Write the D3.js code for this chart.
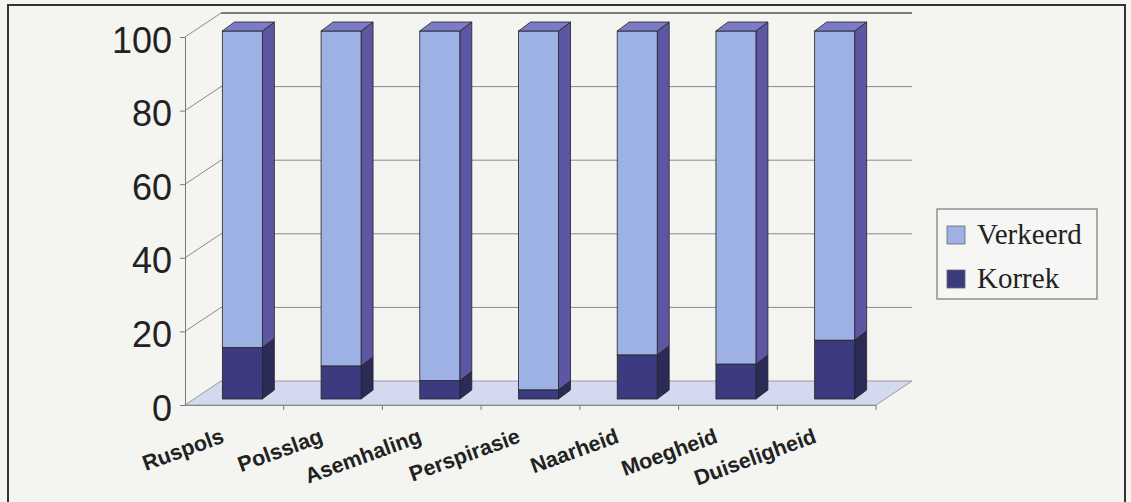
<!DOCTYPE html>
<html>
<head>
<meta charset="utf-8">
<script src="https://cdn.jsdelivr.net/npm/d3@7"></script>
<style>
  html, body { margin: 0; padding: 0; background: #f4f4f1; }
  svg { display: block; }
</style>
</head>
<body>
<svg id="chart" width="1131" height="502"></svg>
<script>
const categories = ["Ruspols", "Polsslag", "Asemhaling", "Perspirasie", "Naarheid", "Moegheid", "Duiseligheid"];
const korrek = [14, 9, 5, 2.5, 12, 9.5, 16];
const verkeerd = [86, 91, 95, 97.5, 88, 90.5, 84];
const seriesNames = ["Verkeerd", "Korrek"];
const yTicks = [0, 20, 40, 60, 80, 100];

const svg = d3.select("#chart");

// outer frame
svg.append("rect").attr("x", 8).attr("y", 5).attr("width", 1117).attr("height", 520)
  .attr("fill", "#f4f4f1").attr("stroke", "#333").attr("stroke-width", 2);

// 3D geometry
const DX = 36, DY = -24;          // floor depth
const fDX = 8, fDY = -6;          // bar front plane offset
const bDX = 12, bDY = -9;         // bar depth
const x = d3.scaleBand().domain(categories).range([185, 876]).paddingInner(0).paddingOuter(0);
const y = d3.scaleLinear().domain([0, 100]).range([405, 37]);
const barW = 40;

const colors = {
  lightFront: "#9db1e4", lightSide: "#5d56a3", lightTop: "#7c7bc6",
  darkFront: "#3c3b80", darkSide: "#2c2b58"
};

// floor
svg.append("polygon")
  .attr("points", [[185, y(0)], [876, y(0)], [876 + DX, y(0) + DY], [185 + DX, y(0) + DY]].map(p => p.join(",")).join(" "))
  .attr("fill", "#d3d9ee").attr("stroke", "#9a9aa6").attr("stroke-width", 1);

// gridlines (left wall diagonals + back wall)
const grid = svg.append("g");
yTicks.filter(v => v > 0).forEach(v => {
  grid.append("line").attr("x1", 185).attr("y1", y(v)).attr("x2", 185 + DX).attr("y2", y(v) + DY)
    .attr("stroke", "#8a8a8a").attr("stroke-width", 1);
  grid.append("line").attr("x1", 185 + DX).attr("y1", y(v) + DY).attr("x2", 876 + DX).attr("y2", y(v) + DY)
    .attr("stroke", v === 100 ? "#555" : "#8a8a8a").attr("stroke-width", v === 100 ? 1.5 : 1);
});

// y axis
const yAxisG = svg.append("g").attr("transform", "translate(185,0)");
yAxisG.call(d3.axisLeft(y).tickValues(yTicks).tickSize(5).tickPadding(8));
yAxisG.select(".domain").attr("stroke", "#777");
yAxisG.selectAll(".tick line").attr("stroke", "#777");
yAxisG.selectAll(".tick text")
  .attr("font-family", "'Liberation Sans', Arial, sans-serif")
  .attr("font-size", 36).attr("fill", "#222").attr("dy", "0.42em");

// x axis
const xAxisG = svg.append("g").attr("transform", `translate(0,${y(0)})`);
xAxisG.call(d3.axisBottom(x).tickSize(0).tickFormat(""));
xAxisG.select(".domain").attr("stroke", "#8a8a8a");
const bounds = categories.map(c => x(c)).concat([x(categories[categories.length - 1]) + x.bandwidth()]);
svg.append("g").selectAll("line").data(bounds.slice(1)).join("line")
  .attr("x1", d => d).attr("x2", d => d).attr("y1", y(0) + 1).attr("y2", y(0) + 5)
  .attr("stroke", "#777");

// x labels
svg.append("g").selectAll("text").data(categories).join("text")
  .attr("transform", d => `translate(${x(d) + x.bandwidth() / 2 - 9},${y(0) + 37}) rotate(-20)`)
  .attr("text-anchor", "end")
  .attr("font-family", "'Liberation Sans', Arial, sans-serif")
  .attr("font-weight", "bold").attr("font-size", 21.5).attr("fill", "#222")
  .text(d => d);

// bars
const stackData = categories.map((c, i) => ({ cat: c, Korrek: korrek[i], Verkeerd: verkeerd[i] }));
const stack = d3.stack().keys(["Korrek", "Verkeerd"])(stackData);
const barsG = svg.append("g");
categories.forEach((c, i) => {
  const x0 = x(c) + x.bandwidth() / 2 - barW / 2 + fDX;
  const x1 = x0 + barW;
  stack.forEach((layer, li) => {
    const seg = layer[i];
    const yb = y(seg[0]) + fDY, yt = y(seg[1]) + fDY;
    const isDark = layer.key === "Korrek";
    barsG.append("polygon")
      .attr("points", [[x1, yb], [x1 + bDX, yb + bDY], [x1 + bDX, yt + bDY], [x1, yt]].map(p => p.join(",")).join(" "))
      .attr("fill", isDark ? colors.darkSide : colors.lightSide).attr("stroke", "#222").attr("stroke-width", 0.8);
    barsG.append("rect").attr("x", x0).attr("y", yt).attr("width", barW).attr("height", yb - yt)
      .attr("fill", isDark ? colors.darkFront : colors.lightFront).attr("stroke", "#222").attr("stroke-width", 0.8);
    if (li === stack.length - 1) {
      barsG.append("polygon")
        .attr("points", [[x0, yt], [x0 + bDX, yt + bDY], [x1 + bDX, yt + bDY], [x1, yt]].map(p => p.join(",")).join(" "))
        .attr("fill", colors.lightTop).attr("stroke", "#222").attr("stroke-width", 0.8);
    }
  });
});

// legend
const lg = svg.append("g");
lg.append("rect").attr("x", 937).attr("y", 209).attr("width", 160).attr("height", 90)
  .attr("fill", "#f6f6f4").attr("stroke", "#777").attr("stroke-width", 1.2);
const legendColors = [colors.lightFront, colors.darkFront];
seriesNames.forEach((s, i) => {
  const yy = 226 + i * 44;
  lg.append("rect").attr("x", 947).attr("y", yy).attr("width", 18).attr("height", 18)
    .attr("fill", legendColors[i]).attr("stroke", "#666").attr("stroke-width", 0.8);
  lg.append("text").attr("x", 977).attr("y", yy + 18)
    .attr("font-family", "'Liberation Serif', 'Times New Roman', serif")
    .attr("font-size", 29).attr("fill", "#222").text(s);
});
</script>
</body>
</html>
